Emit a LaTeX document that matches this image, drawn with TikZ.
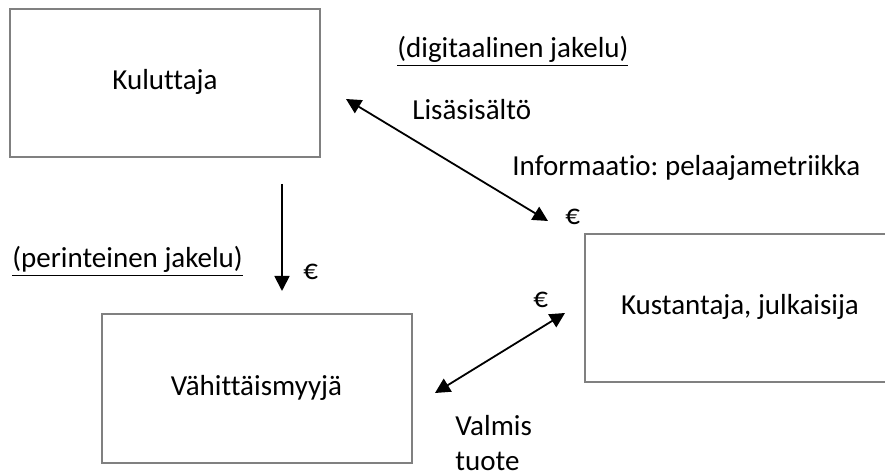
\documentclass[tikz,border=0pt]{standalone}
\usepackage{fontspec}
\setmainfont{Carlito}[Ligatures=NoCommon]
\usepackage{tikz}
\usetikzlibrary{arrows.meta}
\definecolor{boxgray}{RGB}{128,128,128}
\frenchspacing
\tikzset{
  actor/.style={draw=boxgray, line width=1pt, minimum width=155pt,
                minimum height=74pt, inner sep=0pt,
                text height=8.5pt, text depth=2pt},
  lbl/.style={inner sep=0pt, anchor=base west, align=left},
  flow/.style={-{Triangle[length=7.5pt,width=7.5pt]}, line width=0.9pt},
  dflow/.style={{Triangle[length=7.5pt,width=7.5pt]}-{Triangle[length=7.5pt,width=7.5pt]}, line width=0.9pt}
}

\begin{document}
\begin{tikzpicture}[x=0.5pt, y=-0.5pt, font=\fontsize{14.5}{17.5}\selectfont]
\useasboundingbox (0,0) rectangle (885,476);
% toimijat
\node[actor] (kul) at (165,83.5) {Kuluttaja};
\node[actor] (vah) at (256.5,388.5) {Vähittäismyyjä};
\node[actor] (kus) at (740,308) {Kustantaja, julkaisija};
% nuolten päät
\coordinate (kulout) at (282,184);
\coordinate (vahin) at (282,291);
\coordinate (digkul) at (346,99);
\coordinate (digkus) at (548,221);
\coordinate (vahkus) at (565,313);
\coordinate (kusvah) at (435,393);
\draw[flow] (kulout) -- (vahin);
\draw[dflow] (digkul) -- (digkus);
\draw[dflow] (kusvah) -- (vahkus);
% tekstit
\node[lbl] (dig) at (397,58) {\underline{(digitaalinen jakelu)}};
\node[lbl] (lisa) at (412,120) {Lisäsisältö};
\node[lbl] (info) at (512,176) {Informaatio: pelaajametriikka};
\node[lbl] (eur1) at (565,225) {€};
\node[lbl] (per) at (12,268) {\underline{(perinteinen jakelu)}};
\node[lbl] (eur2) at (303,279) {€};
\node[lbl] (eur3) at (533,307) {€};
\node[lbl] (valmis) at (455,470) {Valmis\\tuote};
\end{tikzpicture}
\end{document}
